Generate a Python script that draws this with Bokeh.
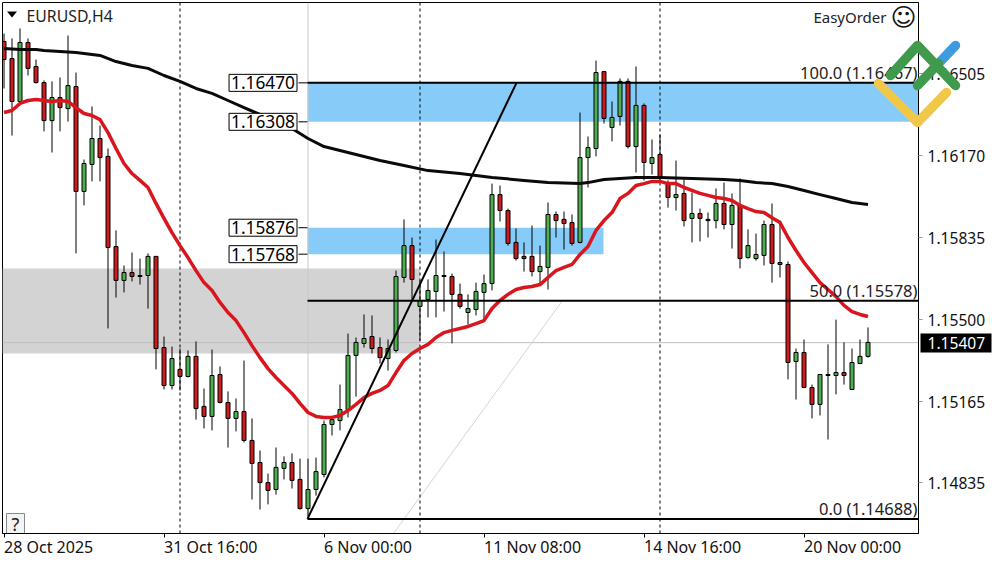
from bokeh.plotting import figure
from bokeh.models import (ColumnDataSource, Label, FixedTicker, NumeralTickFormatter)
from bokeh.core.properties import value
from bokeh.embed import file_html
from bokeh.resources import INLINE

# ---------- data ----------
opens = [1.16636,1.16566,1.16391,1.16632,1.16534,1.16468,1.16313,1.16407,1.16362,1.16452,
 1.16024,1.16134,1.16240,1.16167,1.15799,1.15661,1.15693,1.15681,1.15681,1.15759,
 1.15387,1.15232,1.15298,1.15269,1.15351,1.15147,1.15106,1.15277,1.15163,1.15098,
 1.15126,1.15008,1.14918,1.14836,1.14808,1.14894,1.14918,1.14849,1.14730,1.14808,
 1.14869,1.15073,1.15089,1.15134,1.15355,1.15404,1.15432,1.15387,1.15342,1.15375,
 1.15673,1.15803,1.15555,1.15583,1.15616,1.15677,1.15677,1.15604,1.15530,1.15542,
 1.15612,1.15648,1.16011,1.15946,1.15816,1.15759,1.15759,1.15697,1.15714,1.15930,
 1.15910,1.15897,1.15816,1.16162,1.16199,1.16513,1.16285,1.16330,1.16473,1.16207,
 1.16375,1.16138,1.16175,1.16056,1.15999,1.16016,1.15914,1.15934,1.15910,1.15905,
 1.15975,1.15889,1.15967,1.15754,1.15750,1.15763,1.15889,1.15734,1.15726,1.15330,
 1.15367,1.15224,1.15155,1.15277,1.15273,1.15285,1.15216,1.15322,1.15351]
highs = [1.16668,1.16648,1.16689,1.16648,1.16562,1.16477,1.16473,1.16489,1.16660,1.16509,
 1.16154,1.16371,1.16293,1.16199,1.15865,1.15722,1.15775,1.15750,1.15771,1.15759,
 1.15432,1.15391,1.15383,1.15375,1.15412,1.15220,1.15379,1.15310,1.15208,1.15179,
 1.15334,1.15098,1.14967,1.14873,1.14979,1.14943,1.14955,1.14934,1.14934,1.14938,
 1.15089,1.15106,1.15236,1.15444,1.15428,1.15522,1.15518,1.15428,1.15420,1.15701,
 1.15910,1.15836,1.15661,1.15665,1.15828,1.15779,1.15689,1.15648,1.15604,1.15652,
 1.15685,1.16056,1.16048,1.15954,1.15873,1.15816,1.15885,1.15803,1.15979,1.15942,
 1.15942,1.15930,1.16346,1.16248,1.16558,1.16513,1.16391,1.16485,1.16485,1.16534,
 1.16383,1.16236,1.16256,1.16069,1.16150,1.16073,1.16020,1.15954,1.15938,1.16036,
 1.16060,1.16016,1.16077,1.15869,1.15852,1.15905,1.15975,1.15905,1.15738,1.15383,
 1.15420,1.15236,1.15277,1.15400,1.15501,1.15408,1.15383,1.15420,1.15469]
lows = [1.16444,1.16252,1.16375,1.16497,1.16464,1.16269,1.16183,1.16269,1.16309,1.15771,
 1.15967,1.16065,1.16065,1.15465,1.15591,1.15612,1.15657,1.15644,1.15546,1.15298,
 1.15216,1.15216,1.15212,1.15265,1.15093,1.15057,1.15049,1.15159,1.14979,1.15045,
 1.15000,1.14767,1.14726,1.14747,1.14787,1.14849,1.14812,1.14726,1.14698,1.14783,
 1.14857,1.15028,1.15049,1.15102,1.15187,1.15387,1.15363,1.15322,1.15293,1.15367,
 1.15652,1.15579,1.15416,1.15510,1.15510,1.15534,1.15404,1.15546,1.15481,1.15518,
 1.15493,1.15620,1.15901,1.15803,1.15742,1.15697,1.15677,1.15648,1.15624,1.15836,
 1.15787,1.15803,1.15812,1.16040,1.16167,1.16301,1.16228,1.16293,1.16199,1.16101,
 1.16069,1.16093,1.16069,1.15958,1.15946,1.15881,1.15816,1.15820,1.15836,1.15873,
 1.15869,1.15791,1.15710,1.15750,1.15742,1.15722,1.15652,1.15673,1.15257,1.15175,
 1.15224,1.15098,1.15110,1.15012,1.15196,1.15236,1.15216,1.15322,1.15346]
closes = [1.16562,1.16391,1.16632,1.16526,1.16468,1.16313,1.16407,1.16366,1.16456,1.16024,
 1.16138,1.16240,1.16162,1.15795,1.15661,1.15693,1.15677,1.15677,1.15759,1.15383,
 1.15232,1.15342,1.15269,1.15351,1.15138,1.15106,1.15273,1.15163,1.15098,1.15126,
 1.15008,1.14914,1.14836,1.14804,1.14898,1.14918,1.14845,1.14730,1.14808,1.14881,
 1.15073,1.15093,1.15134,1.15355,1.15408,1.15424,1.15383,1.15346,1.15383,1.15677,
 1.15803,1.15665,1.15579,1.15620,1.15681,1.15681,1.15604,1.15555,1.15546,1.15616,
 1.15648,1.16011,1.15946,1.15812,1.15750,1.15750,1.15697,1.15718,1.15930,1.15905,
 1.15893,1.15812,1.16162,1.16203,1.16509,1.16322,1.16326,1.16473,1.16207,1.16375,
 1.16142,1.16162,1.16081,1.15999,1.16011,1.15905,1.15934,1.15914,1.15905,1.15975,
 1.15889,1.15967,1.15750,1.15803,1.15767,1.15889,1.15730,1.15726,1.15326,1.15367,
 1.15224,1.15155,1.15277,1.15273,1.15285,1.15273,1.15326,1.15351,1.15408]
ma_fast = [1.16346,1.16354,1.16383,1.16395,1.16399,1.16395,1.16391,1.16395,1.16391,1.16366,
 1.16342,1.16334,1.16317,1.16264,1.16199,1.16138,1.16097,1.16069,1.16040,1.15975,
 1.15914,1.15856,1.15803,1.15754,1.15701,1.15652,1.15620,1.15571,1.15530,1.15497,
 1.15448,1.15395,1.15346,1.15301,1.15265,1.15232,1.15200,1.15159,1.15122,1.15106,
 1.15102,1.15102,1.15110,1.15130,1.15155,1.15183,1.15200,1.15212,1.15232,1.15285,
 1.15334,1.15363,1.15383,1.15400,1.15428,1.15448,1.15457,1.15465,1.15473,1.15485,
 1.15497,1.15546,1.15579,1.15604,1.15624,1.15632,1.15636,1.15644,1.15673,1.15701,
 1.15714,1.15726,1.15767,1.15799,1.15865,1.15905,1.15938,1.15995,1.16016,1.16048,
 1.16056,1.16065,1.16065,1.16056,1.16056,1.16040,1.16028,1.16016,1.16008,1.15999,
 1.15995,1.15987,1.15967,1.15954,1.15942,1.15938,1.15917,1.15897,1.15836,1.15783,
 1.15734,1.15693,1.15652,1.15624,1.15595,1.15559,1.15534,1.15522,1.15514]
ma_slow_idx = [0,2,4,5,7,9,11,12,14,16,18,20,22,24,26,28,30,32,34,36,38,40,43,47,50,53,57,61,65,68,72,73,75,77,79,82,86,90,92,94,96,98,100,102,104,106,108]
ma_slow = [1.16607,1.16603,1.16603,1.16599,1.16595,1.16591,1.16583,1.16579,1.16554,1.16538,1.16526,1.16497,
 1.16473,1.16444,1.16424,1.16395,1.16366,1.16338,1.16313,1.16281,1.16240,1.16207,1.16183,1.16150,1.16130,
 1.16109,1.16097,1.16081,1.16069,1.16060,1.16056,1.16060,1.16073,1.16077,1.16081,1.16081,1.16077,1.16073,
 1.16069,1.16060,1.16056,1.16044,1.16028,1.16011,1.15995,1.15979,1.15971]
y_ticks = [1.16505,1.16170,1.15835,1.15500,1.15165,1.14835]
x_tick_idx = [0,20,40,60,80,100]
x_tick_labels = ["28 Oct 2025","31 Oct 16:00","6 Nov 00:00","11 Nov 08:00","14 Nov 16:00","20 Nov 00:00"]
separators = [22,52,82]
last_price = 1.15407
last_label = "1.15407"
zone_levels = [(1.16467,1.16308),(1.15876,1.15768)]
zone_labels = ["1.16470","1.16308","1.15876","1.15768"]
gray_zone = (1.15710,1.15363)
fib_levels = [1.16467,1.15578,1.14688]
fib_labels = ["100.0 (1.16467)","50.0 (1.15578)","0.0 (1.14688)"]

# ---------- pixel helpers for decorations ----------
def X(px): return (px-3.5)/8.0
def Y(py): return (116803-4.08*py)/100000.0

FONT = "Noto Sans"
W,H = 1000,562
p = figure(width=W,height=H,frame_width=916,frame_height=531,output_backend="svg",toolbar_location=None,
           x_range=(X(2),X(918)),y_range=(Y(533),Y(2)),
           y_axis_location="right",min_border_left=2,min_border_top=2,
           min_border_right=82,min_border_bottom=29,
           background_fill_color="white",border_fill_color="white")
p.styles = {"position":"absolute","left":"0px","top":"0px"}
p.grid.visible = False
p.outline_line_color = "black"
p.outline_line_width = 1

ax = p.xaxis[0]
ax.ticker = FixedTicker(ticks=x_tick_idx)
ax.major_label_overrides = dict(zip(x_tick_idx,x_tick_labels))
ax.major_label_orientation = -0.0001
ax.major_label_text_font = FONT
ax.major_label_text_font_size = "16px"
ax.major_label_text_color = "#111111"
ax.major_tick_in = 0; ax.major_tick_out = 4; ax.minor_tick_line_color = None
ax.major_tick_line_color = "black"; ax.axis_line_color = "black"
ax.major_label_standoff = 9

ay = p.yaxis[0]
ay.ticker = FixedTicker(ticks=y_ticks)
ay.formatter = NumeralTickFormatter(format="0.00000")
ay.major_label_text_font = FONT
ay.major_label_text_font_size = "15.6px"
ay.major_label_text_color = "#111111"
ay.major_tick_in = 0; ay.major_tick_out = 4; ay.minor_tick_line_color = None
ay.major_tick_line_color = "#999999"; ay.axis_line_color = "black"
ay.major_label_standoff = 5

# zones
right_edge = X(918)
p.quad(left=X(2),right=52,top=gray_zone[0],bottom=gray_zone[1],fill_color="#D3D3D3",line_color=None)
p.quad(left=X(307),right=right_edge,top=zone_levels[0][0],bottom=zone_levels[0][1],fill_color="#87CBF9",line_color=None)
p.quad(left=X(307),right=X(603),top=zone_levels[1][0],bottom=zone_levels[1][1],fill_color="#87CBF9",line_color=None)

# light grey guides
p.line([X(2),right_edge],[last_price,last_price],line_color="#BEBEBE",line_width=1)
p.line([X(307.5),X(307.5)],[Y(2),fib_levels[2]],line_color="#C8C8C8",line_width=1)
p.line([X(393),X(562)],[Y(533),Y(300)],line_color="#D4D4D4",line_width=1)

# separators
for s in separators:
    p.line([s,s],[Y(2),Y(533)],line_color="black",line_dash="3 3",line_width=1)

# candles
idx = list(range(len(opens)))
up = [c>=o for o,c in zip(opens,closes)]
src = ColumnDataSource(dict(x=idx,o=opens,h=highs,l=lows,c=closes,
    top=[max(a,b) for a,b in zip(opens,closes)],bot=[min(a,b) for a,b in zip(opens,closes)],
    col=["#4CAF50" if u else "#CC1A1F" for u in up]))
p.segment("x","h","x","l",source=src,line_color="black",line_width=1)
p.vbar(x="x",width=0.5,top="top",bottom="bot",source=src,fill_color="col",line_color="black",line_width=1)

# moving averages
p.line(ma_slow_idx,ma_slow,line_color="#0A0A0A",line_width=3,line_join="round")
p.line(idx,ma_fast,line_color="#D9161E",line_width=3.5,line_join="round")

# fibo
p.line([X(307),X(516)],[fib_levels[2],fib_levels[0]],line_color="black",line_width=2)
for lv in fib_levels:
    p.line([X(307),right_edge],[lv,lv],line_color="black",line_width=2)
for lv,t in zip(fib_levels,fib_labels):
    p.add_layout(Label(x=X(917),y=lv,y_offset=-1.5,text=t,text_align="right",text_baseline="bottom",
                       text_font=FONT,text_font_size="16.5px",text_color="#222222"))

# level boxes
box_levels = [zone_levels[0][0],zone_levels[0][1],zone_levels[1][0],zone_levels[1][1]]
for lv,t in zip(box_levels,zone_labels):
    p.line([X(298),X(307)],[lv,lv],line_color="black",line_width=1)
    p.add_layout(Label(x=X(296.5),y=lv,text=t,text_align="right",text_baseline="middle",
                       text_font=FONT,text_font_size="17.3px",text_color="black",
                       border_line_color="black",background_fill_color="white",padding=2))

# top texts
p.patch([X(6.5),X(16.5),X(11.5)],[Y(11),Y(11),Y(17)],fill_color="black",line_color=None)
p.add_layout(Label(x=X(26),y=Y(15),text="EURUSD,H4",text_baseline="middle",text_font=FONT,text_font_size="15.8px",text_color="#222222"))
p.add_layout(Label(x=X(886),y=Y(16),text="EasyOrder",text_align="right",text_baseline="middle",text_font=FONT,text_font_size="15px",text_color="#222222"))
p.add_layout(Label(x=X(903),y=Y(17),text="\u263A",text_align="center",text_baseline="middle",text_font="DejaVu Sans",text_font_size="25px",text_color="#111111"))
p.quad(left=X(6),right=X(24),top=Y(513),bottom=Y(533),fill_color="#F4F4F4",line_color="#888888",line_width=1)
p.add_layout(Label(x=X(15),y=Y(523),text="?",text_align="center",text_baseline="middle",text_font=FONT,text_font_size="18px",text_color="#222222"))

# overlay for what sits outside the plot frame: last price tag and logo
q = figure(width=W,height=H,output_backend="svg",toolbar_location=None,
           x_range=(0,W),y_range=(H,0),x_axis_type=None,y_axis_type=None,
           min_border=0,background_fill_color=None,border_fill_color=None,outline_line_color=None)
q.styles = {"position":"absolute","left":"0px","top":"0px","pointer-events":"none"}
q.grid.visible = False
q.quad(left=920,right=991,top=333,bottom=352,fill_color="black",line_color=None)
q.text(x=[927],y=[342.5],text=[last_label],text_color="white",text_baseline="middle",
       text_font=value(FONT),text_font_size="15.6px")
logo_blue_x,logo_blue_y = [955,938],[45,63]
logo_yellow_x,logo_yellow_y = [878,917,946],[83,122,92]
logo_green_x,logo_green_y = [890,917,955],[75,45,85]
logo_green2_x,logo_green2_y = [917,938],[85,63]
for xs,ys,col in [(logo_blue_x,logo_blue_y,"#3F9BE0"),(logo_yellow_x,logo_yellow_y,"#F0C748"),
                  (logo_green_x,logo_green_y,"#3F9A4B"),(logo_green2_x,logo_green2_y,"#3F9A4B")]:
    q.line(xs,ys,line_color=col,line_width=9.5,line_cap="round",line_join="round")

open("out.html","w").write(file_html([p,q],INLINE))
